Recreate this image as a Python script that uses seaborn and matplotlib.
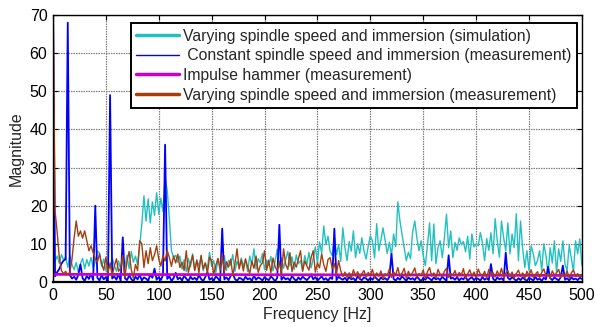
import numpy as np
import pandas as pd
import matplotlib
matplotlib.use("Agg")
import matplotlib.pyplot as plt
import seaborn as sns

# Frequency grid of the spectra [Hz]
freq = np.arange(0, 501, 2)

# Varying spindle speed and immersion (simulation)
sim_varying = [
    8.2, 5.5, 6.8, 4.9, 7.2, 5.8, 6.5, 3.9, 6.9, 4.6,
    3.2, 5.1, 2.6, 4.8, 6.2, 3.5, 5.9, 4.2, 6.4, 3.8,
    5.3, 8.1, 7.6, 4.1, 6.0, 2.9, 5.2, 3.6, 6.3, 4.4,
    2.8, 5.5, 3.3, 6.1, 4.0, 7.0, 3.5, 8.0, 5.2, 6.8,
    4.6, 9.5, 15.2, 22.6, 16.0, 21.8, 15.5, 21.0, 17.5, 23.4,
    17.9, 22.0, 18.5, 27.3, 24.0, 16.8, 8.2, 6.5, 7.0, 5.2,
    6.8, 3.4, 5.8, 2.7, 6.2, 4.0, 7.4, 3.1, 5.5, 4.3,
    6.6, 2.9, 5.0, 3.6, 7.8, 4.1, 5.6, 2.4, 6.0, 3.8,
    5.2, 6.9, 3.0, 5.7, 4.4, 7.2, 2.8, 5.4, 3.9, 6.3,
    4.1, 5.9, 2.7, 6.8, 4.6, 8.7, 3.4, 6.1, 5.0, 7.5,
    3.2, 5.8, 4.3, 6.7, 2.9, 5.5, 8.6, 4.0, 6.4, 3.6,
    5.9, 8.0, 4.2, 6.6, 3.3, 7.1, 4.8, 5.6, 3.0, 6.9,
    4.5, 7.8, 3.7, 6.2, 9.2, 5.0, 10.5, 7.6, 14.7, 9.8,
    12.0, 8.0, 6.9, 11.6, 7.2, 9.8, 5.4, 14.2, 9.0, 5.6,
    10.6, 8.1, 13.4, 6.4, 10.0, 7.5, 11.6, 8.2, 6.0, 9.4,
    12.1, 10.8, 6.3, 15.3, 8.2, 11.0, 14.2, 10.8, 7.5, 10.4,
    7.0, 12.6, 9.3, 21.0, 16.0, 12.4, 9.0, 5.6, 7.8, 6.1,
    13.2, 16.0, 11.6, 8.2, 10.8, 6.9, 4.3, 9.6, 15.5, 5.6,
    15.2, 4.8, 9.0, 10.8, 6.4, 11.6, 17.8, 9.0, 13.4, 6.4,
    10.4, 8.3, 11.6, 9.8, 10.6, 7.9, 12.0, 6.0, 12.6, 9.2,
    10.0, 9.5, 13.0, 10.2, 5.6, 11.4, 8.3, 12.9, 7.4, 16.6,
    10.8, 6.5, 16.0, 11.6, 8.2, 15.5, 7.4, 12.6, 9.0, 17.9,
    5.6, 16.0, 8.7, 3.8, 8.2, 3.0, 9.5, 7.4, 4.3, 5.6,
    8.2, 3.0, 10.0, 7.0, 2.2, 9.0, 5.0, 10.8, 2.5, 8.7,
    5.4, 10.8, 4.8, 3.0, 9.6, 6.2, 2.8, 10.8, 7.4, 11.3,
    4.3,
]

# Constant spindle speed and immersion (measurement)
meas_constant = [
    75.0, 1.5, 2.6, 3.4, 4.8, 5.6, 6.0, 68.0, 1.8, 0.9,
    1.4, 0.6, 1.9, 4.6, 1.0, 0.3, 1.6, 0.8, 2.2, 0.5,
    20.0, 1.1, 0.4, 1.8, 0.7, 1.3, 0.2, 49.0, 0.9, 1.5,
    0.6, 2.1, 0.3, 11.7, 1.0, 0.5, 1.7, 0.8, 0.2, 1.4,
    0.7, 1.9, 0.4, 1.2, 0.9, 0.3, 2.0, 1.1, 3.5, 0.6,
    1.3, 0.5, 1.8, 36.0, 0.8, 1.5, 0.3, 1.0, 2.4, 0.7,
    1.2, 0.4, 1.6, 0.9, 0.2, 1.4, 0.7, 1.1, 0.5, 1.8,
    0.8, 0.3, 1.3, 2.6, 0.6, 1.0, 0.4, 1.5, 0.9, 0.2,
    14.0, 0.7, 1.2, 0.5, 1.6, 2.2, 0.8, 0.3, 1.1, 0.9,
    0.4, 1.4, 0.7, 1.0, 0.3, 1.7, 0.6, 1.2, 0.9, 0.4,
    1.3, 0.8, 0.5, 1.5, 0.9, 0.2, 1.1, 15.0, 0.6, 1.3,
    0.7, 1.0, 0.4, 1.6, 0.8, 0.3, 1.2, 0.6, 1.4, 0.9,
    0.5, 1.1, 2.0, 0.7, 1.3, 0.4, 0.9, 1.5, 0.6, 1.0,
    0.3, 1.2, 0.8, 14.0, 0.5, 1.4, 0.9, 0.6, 1.1, 0.4,
    1.3, 0.7, 1.0, 0.3, 1.5, 0.8, 0.5, 1.2, 0.9, 0.4,
    1.1, 0.6, 1.4, 0.9, 0.3, 1.2, 0.7, 1.0, 0.5, 1.3,
    7.4, 0.8, 0.4, 1.1, 0.6, 1.5, 0.9, 0.3, 1.2, 0.7,
    1.0, 0.5, 1.4, 0.8, 0.2, 1.1, 0.6, 1.3, 0.9, 0.4,
    1.2, 0.7, 1.0, 0.5, 1.4, 0.8, 0.3, 7.0, 0.9, 1.1,
    0.6, 1.3, 0.4, 1.0, 0.7, 1.5, 0.3, 0.9, 1.2, 0.5,
    1.1, 0.8, 0.4, 1.3, 0.6, 1.0, 0.5, 4.7, 0.9, 0.3,
    1.2, 0.7, 1.0, 0.4, 7.7, 1.1, 0.6, 1.3, 0.8, 0.3,
    1.0, 0.5, 1.2, 0.7, 0.3, 1.1, 0.8, 0.4, 1.3, 0.6,
    0.9, 0.3, 1.1, 0.7, 4.0, 1.0, 0.5, 1.2, 0.8, 0.4,
    1.3, 4.3, 0.6, 1.0, 0.4, 1.2, 0.7, 0.9, 0.5, 1.1,
    0.8,
]

# Impulse hammer (measurement), coarse grid
hammer_freq = [0, 50, 100, 150, 200, 250, 300, 350, 400, 450, 500]
hammer_mag = [2.0, 2.0, 1.95, 1.95, 1.9, 1.9, 1.85, 1.85, 1.8, 1.75, 1.7]

# Varying spindle speed and immersion (measurement)
meas_varying = [
    80.0, 18.6, 13.0, 6.5, 3.0, 2.2, 2.8, 1.9, 2.6, 6.0,
    11.6, 16.0, 12.0, 13.4, 11.5, 13.4, 10.8, 8.2, 9.5, 7.7,
    6.0, 5.2, 7.4, 4.8, 3.1, 6.5, 2.4, 5.0, 1.6, 4.2,
    6.1, 2.8, 3.6, 7.0, 1.2, 5.5, 8.0, 3.3, 1.0, 4.6,
    3.0, 10.8, 10.0, 3.8, 8.2, 4.8, 9.0, 5.6, 7.2, 9.5,
    6.0, 4.2, 7.0, 5.5, 8.3, 6.4, 4.1, 6.8, 5.0, 7.3,
    3.8, 5.2, 3.0, 8.2, 2.5, 4.9, 7.0, 3.0, 5.8, 2.4,
    7.0, 3.5, 5.0, 2.3, 6.5, 5.6, 2.1, 4.4, 6.2, 3.2,
    7.4, 2.6, 5.3, 3.9, 6.0, 1.8, 4.7, 8.7, 3.4, 5.8,
    2.9, 6.1, 4.0, 2.2, 5.5, 3.6, 6.8, 2.5, 4.3, 5.0,
    8.2, 3.1, 5.7, 2.4, 6.3, 4.0, 3.0, 5.4, 2.0, 8.7,
    4.6, 3.3, 7.7, 2.7, 5.2, 3.9, 6.0, 8.2, 2.8, 5.5,
    4.2, 3.1, 6.4, 8.2, 2.6, 5.0, 3.7, 7.4, 4.5, 2.8,
    5.9, 6.4, 3.5, 4.8, 2.1, 5.6, 3.0, 1.4, 2.6, 1.2,
    2.4, 1.0, 3.2, 1.6, 2.7, 0.9, 2.2, 3.0, 1.3, 2.5,
    1.8, 3.3, 1.1, 2.4, 1.5, 2.9, 0.8, 2.2, 1.7, 3.4,
    1.2, 2.6, 1.9, 3.8, 1.4, 2.3, 3.6, 1.0, 2.8, 1.6,
    2.5, 3.7, 1.3, 2.2, 1.8, 3.1, 0.9, 2.7, 3.8, 1.5,
    2.4, 1.1, 3.3, 2.0, 1.4, 2.8, 3.6, 1.2, 2.2, 1.7,
    3.0, 1.3, 2.5, 1.8, 3.5, 0.9, 2.1, 3.2, 1.5, 2.6,
    1.2, 3.4, 2.0, 1.4, 2.8, 1.0, 3.3, 1.9, 2.4, 1.3,
    2.9, 1.6, 3.6, 1.1, 2.3, 3.0, 1.4, 2.6, 1.0, 2.2,
    3.1, 1.5, 2.4, 0.9, 2.8, 1.7, 3.2, 1.2, 2.0, 2.7,
    1.1, 2.5, 3.4, 1.6, 2.1, 1.0, 2.9, 1.8, 2.4, 3.3,
    1.3, 2.2, 1.5, 2.9, 1.0, 2.4, 3.1, 1.6, 2.2, 1.4,
    1.9,
]

labels = [
    "Varying spindle speed and immersion (simulation)",
    " Constant spindle speed and immersion (measurement)",
    "Impulse hammer (measurement)",
    "Varying spindle speed and immersion (measurement)",
]
colors = ["#22c0c0", "#0000ff", "#cc00cc", "#a63d0d"]
x_ticks = [0, 50, 100, 150, 200, 250, 300, 350, 400, 450, 500]
y_ticks = [0, 10, 20, 30, 40, 50, 60, 70]

sns.set_style("ticks")
plt.rcParams["font.family"] = ["Liberation Sans", "DejaVu Sans"]
plt.rcParams["font.size"] = 11

fig = plt.figure(figsize=(5.95, 3.27), dpi=100)
ax = fig.add_axes([0.089, 0.1376, 0.889, 0.8164])

sns.lineplot(x=freq, y=sim_varying, ax=ax, color=colors[0], lw=1.0,
             label=labels[0], estimator=None)
sns.lineplot(x=freq, y=meas_constant, ax=ax, color=colors[1], lw=1.3,
             label=labels[1], estimator=None)
sns.lineplot(x=hammer_freq, y=hammer_mag, ax=ax, color=colors[2], lw=2.0,
             label=labels[2], estimator=None)
sns.lineplot(x=freq, y=meas_varying, ax=ax, color=colors[3], lw=1.0,
             label=labels[3], estimator=None)

ax.set_xlim(0, 500)
ax.set_ylim(0, 70)
ax.set_xticks(x_ticks)
ax.set_yticks(y_ticks)
ax.set_xlabel("Frequency [Hz]", fontsize=11.5, labelpad=3)
ax.set_ylabel("Magnitude", fontsize=11.5, labelpad=4)
ax.tick_params(direction="in", length=3.5, width=0.8, top=True, right=True,
               labelsize=11.5, colors="black", pad=4)
ax.grid(True, color="0.5", linestyle=(0, (1.2, 0.8)), linewidth=0.9)
for side in ax.spines.values():
    side.set_color("black")
    side.set_linewidth(1.0)
ax.spines["bottom"].set_linewidth(1.6)

leg = ax.legend(loc="upper right", bbox_to_anchor=(0.990, 0.970),
                borderaxespad=0, fancybox=False, framealpha=1,
                edgecolor="black", handlelength=2.7, handletextpad=0.25,
                labelspacing=0.3, fontsize=11.3, borderpad=0.35)
leg.get_frame().set_linewidth(1.4)
for handle, w in zip(leg.get_lines(), [2.5, 1.0, 2.5, 2.5]):
    handle.set_linewidth(w)

fig.savefig("out.png", dpi=100)
